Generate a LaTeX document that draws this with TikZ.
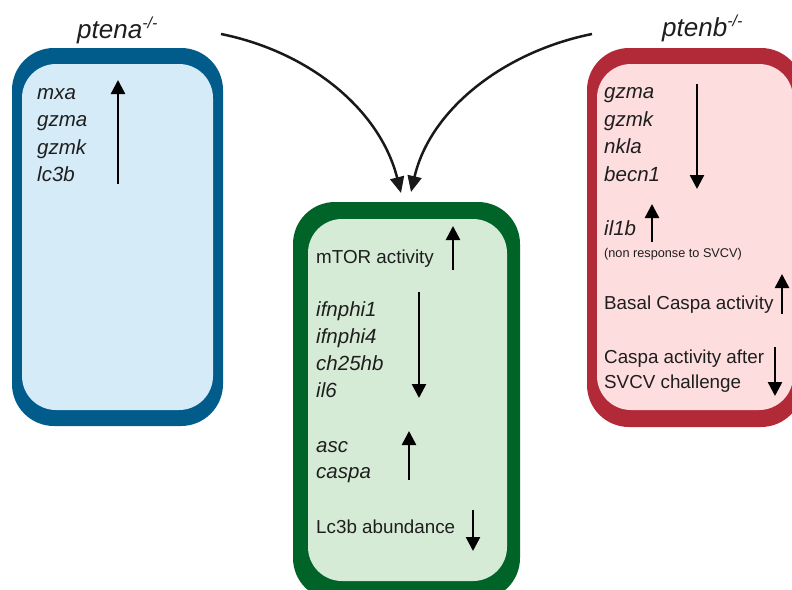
\documentclass[tikz,border=0pt]{standalone}
\usepackage{fontspec}
\setmainfont{Liberation Sans}
\usetikzlibrary{arrows.meta}
\definecolor{bluedark}{RGB}{1,92,140}
\definecolor{bluefill}{RGB}{214,235,248}
\definecolor{greendark}{RGB}{0,100,40}
\definecolor{greenfill}{RGB}{214,235,214}
\definecolor{reddark}{RGB}{178,42,56}
\definecolor{redfill}{RGB}{253,221,221}
\definecolor{txt}{RGB}{30,30,30}
\tikzset{
  gene/.style={anchor=base west, inner sep=0pt, text=txt, font=\fontsize{20.5}{24}\selectfont\itshape},
  plain/.style={anchor=base west, inner sep=0pt, text=txt, font=\fontsize{18.8}{22}\selectfont},
  small/.style={anchor=base west, inner sep=0pt, text=txt, font=\fontsize{12.7}{15}\selectfont},
  title/.style={anchor=base west, inner sep=0pt, text=txt, font=\fontsize{26}{30}\selectfont\itshape},
  updown/.style={line width=2.5pt, draw=black, -{Triangle[width=14pt,length=14pt]}},
  curve/.style={line width=2.5pt, draw=black!90, -{Triangle[width=14pt,length=16pt]}},
}
\begin{document}
\begin{tikzpicture}[x=1pt,y=-1pt]
\useasboundingbox (0,0) rectangle (792,589);
% boxes
\fill[bluedark, rounded corners=42pt] (12,48) rectangle (223,426);
\fill[bluefill, rounded corners=34pt] (22,64) rectangle (213,410);
\fill[greendark, rounded corners=42pt] (293,202) rectangle (520,600);
\fill[greenfill, rounded corners=34pt] (308,219) rectangle (507,581);
\fill[reddark, rounded corners=42pt] (587,48) rectangle (803,427);
\fill[redfill, rounded corners=34pt] (597,64) rectangle (793,410);
% titles
\node[title] (ta) at (77,38) {ptena\textsuperscript{\fontsize{16}{16}\selectfont -/-}};
\node[title] (tb) at (662,36) {ptenb\textsuperscript{\fontsize{16}{16}\selectfont -/-}};
% curved arrows
\coordinate (la) at (221,34);
\coordinate (lt) at (401,193);
\coordinate (ra) at (592,34);
\coordinate (rt) at (411,192);
\draw[curve] (la) .. controls (310,52) and (380,110) .. (lt);
\draw[curve] (ra) .. controls (503,52) and (430,110) .. (rt);
% blue box text
\node[gene] (b1) at (37,99) {mxa};
\node[gene] (b2) at (37,126) {gzma};
\node[gene] (b3) at (37,154) {gzmk};
\node[gene] (b4) at (37,181) {lc3b};
\coordinate (ba0) at (118,184);
\coordinate (ba1) at (118,80);
\draw[updown] (ba0) -- (ba1);
% red box text
\node[gene] (r1) at (604,98) {gzma};
\node[gene] (r2) at (604,126) {gzmk};
\node[gene] (r3) at (604,153) {nkla};
\node[gene] (r4) at (604,181) {becn1};
\coordinate (ra0) at (697,84);
\coordinate (ra1) at (697,189);
\draw[updown] (ra0) -- (ra1);
\node[gene] (r5) at (604,235) {il1b};
\coordinate (rb0) at (652,242);
\coordinate (rb1) at (652,204);
\draw[updown] (rb0) -- (rb1);
\node[small] (r6) at (604,257) {(non response to SVCV)};
\node[plain] (r7) at (604,309) {Basal Caspa activity};
\coordinate (rc0) at (782,314);
\coordinate (rc1) at (782,274);
\draw[updown] (rc0) -- (rc1);
\node[plain] (r8) at (604,363) {Caspa activity after};
\node[plain] (r9) at (604,388) {SVCV challenge};
\coordinate (rd0) at (775,347);
\coordinate (rd1) at (775,396);
\draw[updown] (rd0) -- (rd1);
% green box text
\node[plain] (g1) at (316,263) {mTOR activity};
\coordinate (ga0) at (453,270);
\coordinate (ga1) at (453,226);
\draw[updown] (ga0) -- (ga1);
\node[gene] (g2) at (316,316) {ifnphi1};
\node[gene] (g3) at (316,343) {ifnphi4};
\node[gene] (g4) at (316,370) {ch25hb};
\node[gene] (g5) at (316,397) {il6};
\coordinate (gb0) at (419,292);
\coordinate (gb1) at (419,398);
\draw[updown] (gb0) -- (gb1);
\node[gene] (g6) at (316,452) {asc};
\node[gene] (g7) at (316,478) {caspa};
\coordinate (gc0) at (409,480);
\coordinate (gc1) at (409,431);
\draw[updown] (gc0) -- (gc1);
\node[plain] (g8) at (316,533) {Lc3b abundance};
\coordinate (gd0) at (473,510);
\coordinate (gd1) at (473,551);
\draw[updown] (gd0) -- (gd1);
\end{tikzpicture}
\end{document}
